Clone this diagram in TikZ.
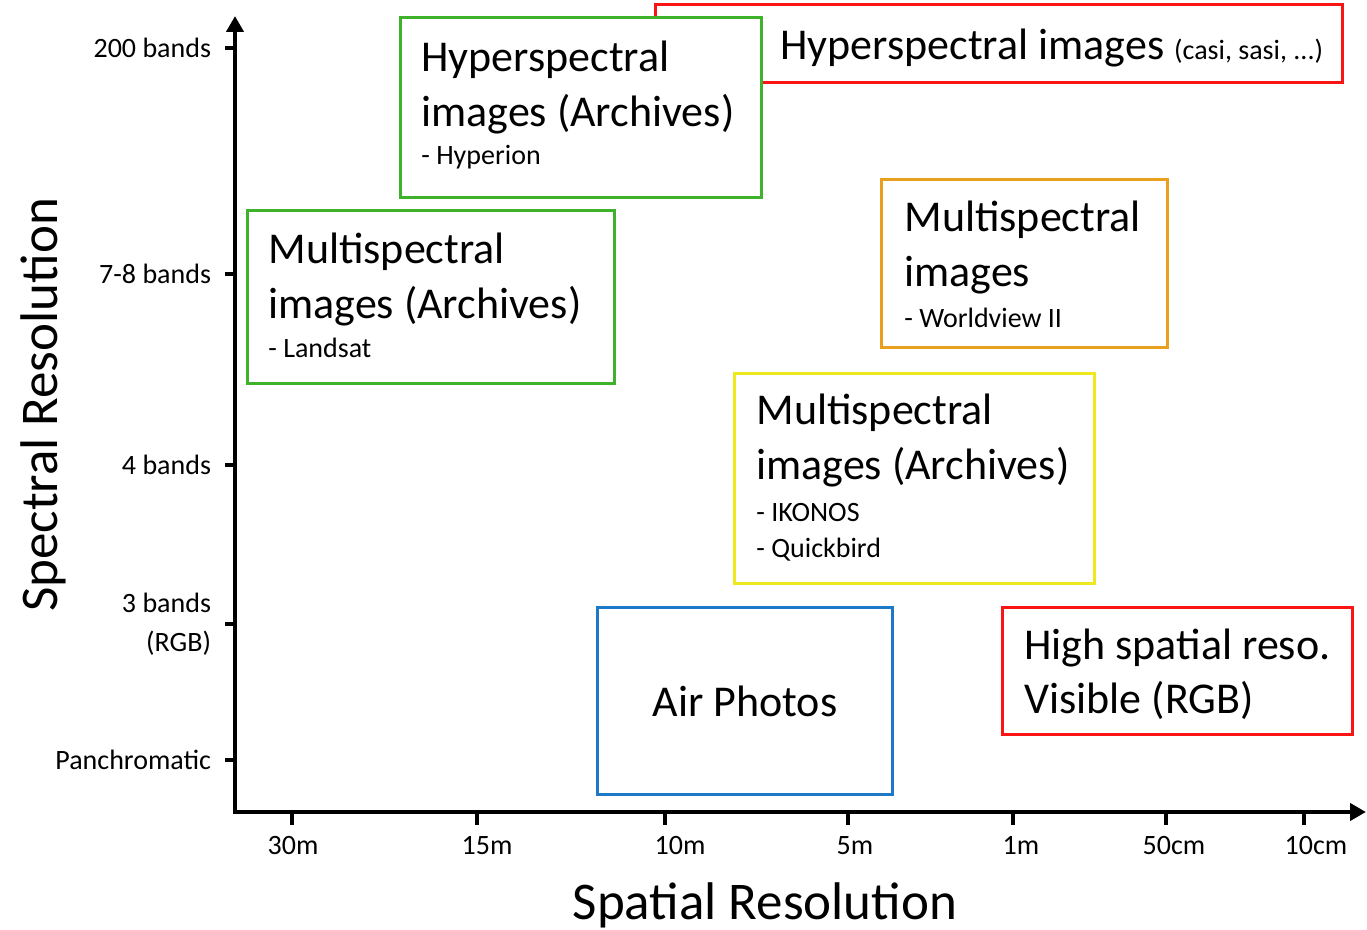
\documentclass[tikz,border=0pt]{standalone}
\usepackage{fontspec}
\setmainfont{Carlito}
\usetikzlibrary{arrows.meta}

\definecolor{boxgreen}{RGB}{62,178,42}
\definecolor{boxred}{RGB}{250,20,20}
\definecolor{boxorange}{RGB}{232,160,30}
\definecolor{boxyellow}{RGB}{240,232,30}
\definecolor{boxblue}{RGB}{30,120,200}

\newcommand*{\xorig}{235}
\newcommand*{\yorig}{812}
\newcommand*{\xend}{1366}
\newcommand*{\yend}{16}

\begin{document}
\begin{tikzpicture}
[
	x=0.5pt, y=-0.5pt,
	databox/.style={draw=#1,line width=1.5pt,fill=white,inner sep=0pt,anchor=north west},
	bigtext/.style={anchor=base west,inner sep=0pt,align=left,font=\fontsize{22}{27.5}\selectfont},
	smalltext/.style={anchor=base west,inner sep=0pt,align=left,font=\fontsize{14}{18}\selectfont},
	ticklabel/.style={inner sep=0pt,font=\fontsize{14}{19.5}\selectfont},
	axistitle/.style={inner sep=0pt,anchor=base,font=\fontsize{26.5}{30}\selectfont},
	axisline/.style={line width=2pt}
]

	\useasboundingbox (0,0) rectangle (1367,930);

	% axes
	\coordinate (o) at (\xorig,\yorig);
	\coordinate (xtip) at (\xend,\yorig);
	\coordinate (ytip) at (\xorig,\yend);
	\draw[axisline,{Triangle[length=8pt,width=8.5pt]}-{Triangle[length=8pt,width=8.5pt]}] (ytip) -- (o) -- (xtip);

	% ticks
	\foreach \y/\lab [count=\i] in {48/200 bands, 274/7-8 bands, 465/4 bands, 760/Panchromatic}
		\draw[axisline] (\xorig,\y) -- ++(-10,0) node[ticklabel,left=6pt] (ylab\i) {\lab};
	\draw[axisline] (\xorig,624) -- ++(-10,0) node[ticklabel,left=6pt,align=right] (ylabrgb) {3 bands\\(RGB)};
	\foreach \x/\lx/\lab [count=\i] in {292/293/30m, 477/487/15m, 665/680/10m, 848/855/5m, 1013/1021/1m, 1166/1174/50cm, 1304/1316/10cm} {
		\draw[axisline] (\x,\yorig) -- ++(0,13);
		\node[ticklabel,anchor=base] (xlab\i) at (\lx,855) {\lab};
	}

	\node[axistitle,rotate=90] (ytitle) at (57,405) {Spectral Resolution};
	\node[axistitle] (xtitle) at (765,919) {Spatial Resolution};

	% boxes (base of a two-line text = its last line)
	\node[databox=boxred,minimum width=343.5pt,minimum height=39pt] (hypimg) at (654,3) {};
	\node[bigtext] (hypimgtxt) at ([shift={(126,57)}]hypimg.north west) {Hyperspectral images {\fontsize{14}{16}\selectfont(casi, sasi, ...)}};

	\node[databox=boxgreen,minimum width=180.5pt,minimum height=90pt] (hyparch) at (399,16) {};
	\node[bigtext] (hyparchtxt) at ([shift={(22,111)}]hyparch.north west) {Hyperspectral\\images (Archives)};
	\node[smalltext] (hyparchsub) at ([shift={(22,149)}]hyparch.north west) {- Hyperion};

	\node[databox=boxgreen,minimum width=183.5pt,minimum height=86.5pt] (mularch) at (246,209) {};
	\node[bigtext] (mularchtxt) at ([shift={(22,110)}]mularch.north west) {Multispectral\\images (Archives)};
	\node[smalltext] (mularchsub) at ([shift={(22,149)}]mularch.north west) {- Landsat};

	\node[databox=boxorange,minimum width=143pt,minimum height=84pt] (mulimg) at (880,178) {};
	\node[bigtext] (mulimgtxt) at ([shift={(24,109)}]mulimg.north west) {Multispectral\\images};
	\node[smalltext] (mulimgsub) at ([shift={(24,150)}]mulimg.north west) {- Worldview II};

	\node[databox=boxyellow,minimum width=180pt,minimum height=105pt] (mulhigh) at (733,372) {};
	\node[bigtext] (mulhightxt) at ([shift={(23,108)}]mulhigh.north west) {Multispectral\\images (Archives)};
	\node[smalltext] (mulhighsub) at ([shift={(23,186)}]mulhigh.north west) {- IKONOS\\- Quickbird};

	\node[databox=boxblue,minimum width=147.5pt,minimum height=93.5pt] (airphoto) at (596,606) {};
	\node[bigtext,anchor=center] (airphototxt) at (airphoto.center) {Air Photos};

	\node[databox=boxred,minimum width=175pt,minimum height=63.5pt] (highres) at (1001,606) {};
	\node[bigtext] (highrestxt) at ([shift={(23,108)}]highres.north west) {High spatial reso.\\Visible (RGB)};

\end{tikzpicture}
\end{document}
